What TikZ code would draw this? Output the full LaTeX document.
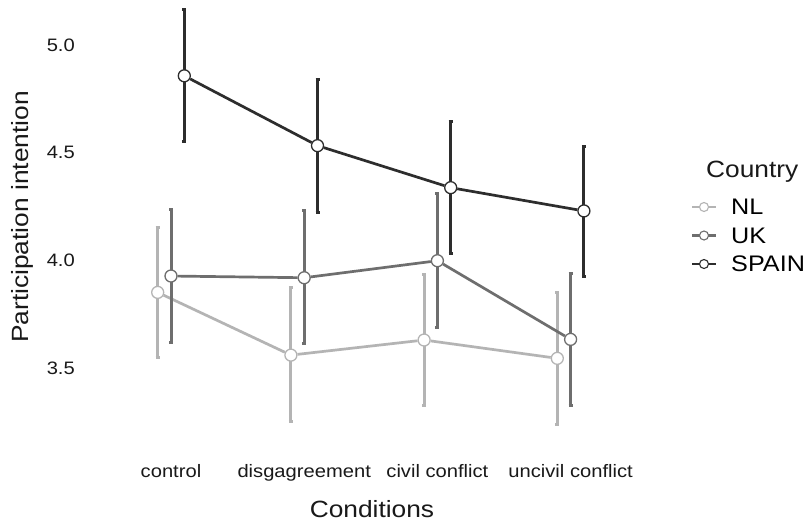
\documentclass[tikz,border=0pt]{standalone}
\usepackage{fontspec}
\setmainfont{Liberation Sans}[FakeStretch=1.12]
\usepackage{tikz}
\usepackage{xcolor}
\definecolor{nlgray}{HTML}{B4B4B4}
\definecolor{ukgray}{HTML}{6E6E6E}
\definecolor{esgray}{HTML}{2D2D2D}
% value -> vertical position
\newcommand{\vy}[1]{45+(5-#1)*215.5}
\tikzset{
  errbar/.style={line width=3pt},
  trend/.style={line width=2.7pt},
  mean/.style={circle,draw,fill=white,line width=1.3pt,minimum size=12pt,inner sep=0pt},
  keydot/.style={circle,draw,fill=white,line width=1.1pt,minimum size=9pt,inner sep=0pt},
  ticklab/.style={font=\fontsize{18}{21}\selectfont,text=black!90,inner sep=0pt},
  axtitle/.style={font=\fontsize{23.5}{27}\selectfont,text=black!90,inner sep=0pt},
  legtext/.style={font=\fontsize{22.5}{26}\selectfont,text=black,inner sep=0pt}
}
\begin{document}
\begin{tikzpicture}[x=1pt,y=-1pt]
                \fill[white] (0,0) rectangle (810,522);
                \useasboundingbox (0,0) rectangle (810,522);
                % axis texts
                \foreach \v [count=\k] in {3.5,4.0,4.5,5.0}
                \node[ticklab,anchor=east] (tick\k) at (75,{\vy{\v}}) {\v};
                \foreach \lab [count=\i] in {control,disgagreement,civil conflict,uncivil conflict}
                \node[ticklab,anchor=base] (cat\i) at ({171+133.2*(\i-1)},477) {\lab};
                \node[axtitle,anchor=base] (xtitle) at (372,517) {Conditions};
                \node[axtitle,rotate=90,anchor=base] (ytitle) at (28,217) {Participation intention};
                % NL
                \foreach \i/\m/\lo/\hi in {1/3.852/3.551/4.154, 2/3.561/3.252/3.874, 3/3.631/3.326/3.936, 4/3.546/3.237/3.851}{
                \coordinate (nllo\i) at ({171+133.2*(\i-1)-13.3},{\vy{\lo}});
                \coordinate (nlhi\i) at ({171+133.2*(\i-1)-13.3},{\vy{\hi}});
                \draw[errbar,nlgray] (nllo\i) -- (nlhi\i);
                \draw[errbar,nlgray] ([xshift=-2pt]nllo\i) -- ([xshift=2pt]nllo\i);
                \draw[errbar,nlgray] ([xshift=-2pt]nlhi\i) -- ([xshift=2pt]nlhi\i);
                \node[mean,draw=nlgray] (nl\i) at ({171+133.2*(\i-1)-13.3},{\vy{\m}}) {};
                }
                \draw[trend,nlgray] (nl1) -- (nl2) -- (nl3) -- (nl4);
                % UK
                \foreach \i/\m/\lo/\hi in {1/3.928/3.619/4.238, 2/3.920/3.613/4.230, 3/3.999/3.690/4.309, 4/3.634/3.329/3.941}{
                \coordinate (uklo\i) at ({171+133.2*(\i-1)},{\vy{\lo}});
                \coordinate (ukhi\i) at ({171+133.2*(\i-1)},{\vy{\hi}});
                \draw[errbar,ukgray] (uklo\i) -- (ukhi\i);
                \draw[errbar,ukgray] ([xshift=-2pt]uklo\i) -- ([xshift=2pt]uklo\i);
                \draw[errbar,ukgray] ([xshift=-2pt]ukhi\i) -- ([xshift=2pt]ukhi\i);
                \node[mean,draw=ukgray] (uk\i) at ({171+133.2*(\i-1)},{\vy{\m}}) {};
                }
                \draw[trend,ukgray] (uk1) -- (uk2) -- (uk3) -- (uk4);
                % SPAIN
                \foreach \i/\m/\lo/\hi in {1/4.857/4.551/5.166, 2/4.533/4.225/4.838, 3/4.338/4.033/4.643, 4/4.230/3.928/4.531}{
                \coordinate (eslo\i) at ({171+133.2*(\i-1)+13.3},{\vy{\lo}});
                \coordinate (eshi\i) at ({171+133.2*(\i-1)+13.3},{\vy{\hi}});
                \draw[errbar,esgray] (eslo\i) -- (eshi\i);
                \draw[errbar,esgray] ([xshift=-2pt]eslo\i) -- ([xshift=2pt]eslo\i);
                \draw[errbar,esgray] ([xshift=-2pt]eshi\i) -- ([xshift=2pt]eshi\i);
                \node[mean,draw=esgray] (es\i) at ({171+133.2*(\i-1)+13.3},{\vy{\m}}) {};
                }
                \draw[trend,esgray] (es1) -- (es2) -- (es3) -- (es4);
                % legend
                \node[axtitle,anchor=base west] (legtitle) at (706,177.5) {Country};
                \foreach \c/\col/\lab/\y in {nl/nlgray/NL/207, uk/ukgray/UK/235.5, es/esgray/SPAIN/264}{
                \coordinate (key\c a) at (692,\y);
                \coordinate (key\c b) at (716,\y);
                \draw[line width=2.4pt,\col] (key\c a) -- (key\c b);
                \node[keydot,draw=\col] (key\c) at (704,\y) {};
                \node[legtext,anchor=west] (lab\c) at (731,\y) {\lab};
                }
            \end{tikzpicture}
\end{document}
